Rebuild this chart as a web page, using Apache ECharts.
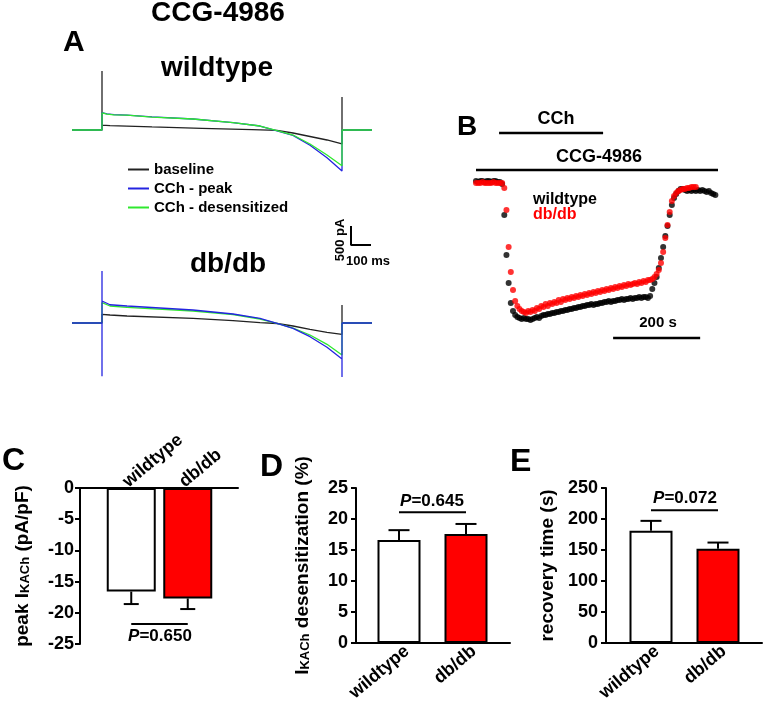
<!DOCTYPE html>
<html><head><meta charset="utf-8">
<script src="https://cdn.jsdelivr.net/npm/echarts@6/dist/echarts.min.js"></script>
<style>html,body{margin:0;padding:0;background:#fff}#c{width:765px;height:710px}</style>
</head><body><div id="c"></div>
<script>
const FONT = "'Liberation Sans', Arial, Helvetica, sans-serif";

// ---------- Panel A: current traces (time in ms, current in pA relative to holding) ----------
const wtBaseT = [-150, 0, 0, 0, 40, 250, 500, 750, 875, 955, 1040, 1125, 1200, 1200, 1200, 1350];
const wtBaseI = [0, 0, 1550, 130, 115, 80, 45, 10, -10, -79, -171, -263, -368, 870, 0, 0];
const wtPeakT = [-150, 0, 0, 25, 60, 125, 250, 455, 655, 790, 875, 955, 1040, 1125, 1200, 1200, 1350];
const wtPeakI = [0, 0, 455, 425, 405, 390, 345, 289, 195, 105, -20, -140, -400, -730, -1080, 0, 0];
const wtDesT  = [-150, 0, 0, 25, 60, 125, 250, 455, 655, 790, 875, 955, 1040, 1125, 1200, 1200, 1350];
const wtDesI  = [0, 0, 450, 420, 400, 390, 340, 289, 192, 105, -18, -132, -368, -658, -940, 0, 0];
const dbBaseT = [-150, 0, 0, 40, 125, 455, 655, 790, 875, 955, 1040, 1125, 1200, 1200, 1200, 1350];
const dbBaseI = [0, 0, 228, 210, 184, 124, 61, 8, -13, -79, -166, -245, -297, 474, 0, 0];
const dbPeakT = [-150, 0, 0, 0, 0, 40, 125, 455, 655, 790, 875, 955, 1040, 1125, 1200, 1200, 1200, 1350];
const dbPeakI = [0, 0, 1370, -1400, 579, 480, 447, 342, 237, 124, -13, -140, -360, -640, -947, -1420, 0, 0];
const dbDesT  = [-150, 0, 0, 40, 125, 455, 655, 790, 875, 955, 1040, 1125, 1200, 1200, 1350];
const dbDesI  = [0, 0, 534, 447, 413, 316, 224, 105, -13, -132, -316, -561, -842, 0, 0];

// ---------- Panel B: time course (s) of current, arbitrary units ----------
const timeS = [0,5,10,15,20,25,30,35,40,45,50,55,60,65,70,75,80,85,90,95,100,105,110,115,120,125,130,135,140,145,150,155,160,165,170,175,180,185,190,195,200,205,210,215,220,225,230,235,240,245,250,255,260,265,270,275,280,285,290,295,300,305,310,315,320,325,330,335,340,345,350,355,360,365,370,375,380,385,390,395,400,405,410,415,420,425,430,435,440,445,450,455,460,465,470,475,480,485,490,495,500,505,510,515,520,525,530,535,540,545,550];
const wtCourse = [1,0,1,1,0,1,1,0,1,1,0,0,
  -2,-33,-73,-101,-121,-129,-133,-135,-136,-137,
  -136,-137,-137,-138,-137,-136,-135,-136,-134,-133,
  -133,-132,-132,-131,-131,-130,-130,-129,-129,-128,
  -128,-127,-127,-126,-126,-125,-125,-124,-124,-123,
  -123,-122,-123,-122,-122,-121,-121,-120,-120,-119,
  -120,-119,-119,-118,-118,-117,-118,-117,-117,-116,
  -117,-116,-116,-115,-116,-115,-115,-116,-114,-107,
  -101,-95,-86,-76,-65,-54,-44,-33,-23,-16,
  -12,-9,-7,-7,-8,-9,-8,-9,-8,-9,
  -8,-9,-8,-9,-10,-9,-11,-12,-13];
const dbCourse = [-1,-1,-1,0,-1,-1,-1,-1,0,-1,-1,-1,
  -1,-6,-28,-65,-90,-108,-119,-124,-127,-129,
  -130,-131,-129,-130,-128,-129,-126,-127,-124,-125,
  -122,-124,-121,-122,-120,-121,-118,-120,-117,-118,
  -116,-117,-115,-116,-114,-115,-113,-114,-112,-113,
  -111,-112,-110,-111,-109,-110,-108,-109,-107,-108,
  -106,-107,-105,-106,-104,-105,-103,-104,-102,-103,
  -102,-101,-102,-100,-101,-99,-100,-98,-98,-97,
  -95,-92,-88,-81,-70,-56,-43,-30,-19,-14,
  -11,-9,-8,-7,-7,-6,-6,-5,-5,-5];
const cchPeriod = [53, 292];     // s
const ccgPeriod = [0, 556];      // s
const timeScaleB = [315, 515];   // 200 s bar

// ---------- Panels C, D, E ----------
const groups = ['wildtype', 'db/db'];
const peakMean = [-16.6, -17.7];
const peakSem  = [2.0, 1.7];
const desMean  = [16.6, 17.6];
const desSem   = [1.6, 1.6];
const recMean  = [181, 152];
const recSem   = [16, 10];
const pValues  = ['0.650', '0.645', '0.072'];
const peakTicks = [-25, -20, -15, -10, -5, 0];
const desTicks  = [0, 5, 10, 15, 20, 25];
const recTicks  = [0, 50, 100, 150, 200, 250];

const zip = (a, b) => a.map((v, i) => [v, b[i]]);
const BLACK = '#222222', BLUE = '#2424e0', GREEN = '#2fe82f', RED = '#ff0000';

function trace(name, t, v, color, gi, z) {
  return { type: 'line', name: name, xAxisIndex: gi, yAxisIndex: gi, data: zip(t, v),
    showSymbol: false, symbol: 'none', silent: true, z: z, animation: false,
    itemStyle: { color: color }, lineStyle: { color: color, width: 1.3 } };
}

function errRender(capW) {
  return function (params, api) {
    const x = api.value(0), m = api.value(1), e = api.value(2);
    const p0 = api.coord([x, m]);
    const p1 = api.coord([x, m < 0 ? m - e : m + e]);
    const st = { stroke: '#000', lineWidth: 2 };
    return { type: 'group', children: [
      { type: 'line', shape: { x1: p0[0], y1: p0[1], x2: p1[0], y2: p1[1] }, style: st },
      { type: 'line', shape: { x1: p1[0] - capW / 2, y1: p1[1], x2: p1[0] + capW / 2, y2: p1[1] }, style: st }
    ]};
  };
}

const tickLabel = { color: '#000', fontFamily: FONT, fontWeight: 'bold', fontSize: 18 };
const axisLineBlk = { show: true, lineStyle: { color: '#000', width: 2 } };
const nameStyle = { color: '#000', fontFamily: FONT, fontWeight: 'bold', fontSize: 19,
  rich: { sub: { fontFamily: FONT, fontWeight: 'bold', fontSize: 13, lineHeight: 8, verticalAlign: 'bottom' } } };

function valueAxisShown(gi, min, max, interval, name, gap, margin) {
  return { type: 'value', gridIndex: gi, min: min, max: max, interval: interval,
    axisLine: axisLineBlk, axisTick: { show: true, length: 5, lineStyle: { color: '#000', width: 2 } },
    axisLabel: Object.assign({ margin: margin }, tickLabel), splitLine: { show: false },
    name: name, nameLocation: 'middle', nameRotate: 90, nameGap: gap, nameTextStyle: nameStyle };
}
function hiddenValue(gi, min, max) { return { type: 'value', gridIndex: gi, min: min, max: max, show: false }; }
function baseX(gi, pos) {
  return { type: 'value', gridIndex: gi, min: 0, max: 1, position: pos, axisLine: Object.assign({ onZero: false }, axisLineBlk),
    axisTick: { show: false }, axisLabel: { show: false }, splitLine: { show: false } };
}
function catX(gi, pos, margin, showLabel) {
  return { type: 'category', gridIndex: gi, data: groups, position: pos,
    axisLine: { show: false }, axisTick: { show: false },
    axisLabel: Object.assign({ show: showLabel, rotate: 40, margin: margin, interval: 0 }, tickLabel) };
}

const grids = [
  { left: 72, top: 54, width: 300, height: 152 },          // 0 A wildtype
  { left: 72, top: 224.2, width: 300, height: 174.8 },     // 1 A db/db
  { left: 476, top: 122, width: 242, height: 230 },        // 2 B
  { left: 80, top: 488, width: 158, height: 156 },         // 3 C axes
  { left: 103, top: 488, width: 113, height: 156 },        // 4 C bars
  { left: 356, top: 488, width: 154, height: 155 },        // 5 D axes
  { left: 365.5, top: 488, width: 134, height: 155 },      // 6 D bars
  { left: 606, top: 488, width: 156, height: 155 },        // 7 E axes
  { left: 617.5, top: 488, width: 134, height: 155 },      // 8 E bars
  { left: 97, top: 488, width: 113, height: 156 },         // 9 C group labels
  { left: 373.5, top: 488, width: 134, height: 155 },      // 10 D group labels
  { left: 623.5, top: 488, width: 134, height: 155 }       // 11 E group labels
];

const xAxes = [
  { type: 'value', gridIndex: 0, min: -150, max: 1350, show: false },
  { type: 'value', gridIndex: 1, min: -150, max: 1350, show: false },
  { type: 'value', gridIndex: 2, min: 0, max: 556, show: false },
  baseX(3, 'top'), catX(4, 'top', 4, false),
  baseX(5, 'bottom'), catX(6, 'bottom', 6, false),
  baseX(7, 'bottom'), catX(8, 'bottom', 6, false),
  catX(9, 'top', 4, true), catX(10, 'bottom', 6, true), catX(11, 'bottom', 6, true)
];
const yAxes = [
  hiddenValue(0, -2000, 2000),
  hiddenValue(1, -2000, 2600),
  hiddenValue(2, -170, 60),
  valueAxisShown(3, peakTicks[0], peakTicks[peakTicks.length - 1], 5, 'peak I{sub|KACh} (pA/pF)', 48, 6),
  hiddenValue(4, -25, 0),
  valueAxisShown(5, desTicks[0], desTicks[desTicks.length - 1], 5, 'I{sub|KACh} desensitization (%)', 44, 8),
  hiddenValue(6, 0, 25),
  valueAxisShown(7, recTicks[0], recTicks[recTicks.length - 1], 50, 'recovery time (s)', 49, 8),
  hiddenValue(8, 0, 250),
  hiddenValue(9, -25, 0),
  hiddenValue(10, 0, 25),
  hiddenValue(11, 0, 250)
];

function barSeries(gi, means, sems, capW, barW, sigLevel) {
  return [
    { type: 'bar', name: 'bars' + gi, xAxisIndex: gi, yAxisIndex: gi, barWidth: barW, silent: true, animation: false,
      data: means.map((m, i) => ({ value: m, itemStyle: { color: i === 0 ? '#ffffff' : RED, borderColor: '#000', borderWidth: 2 } })) },
    { type: 'custom', name: 'err' + gi, xAxisIndex: gi, yAxisIndex: gi, silent: true, animation: false,
      renderItem: errRender(capW), data: means.map((m, i) => [i, m, sems[i]]), z: 3 },
    { type: 'line', name: 'sig' + gi, xAxisIndex: gi, yAxisIndex: gi, silent: true, animation: false, symbol: 'none',
      lineStyle: { color: '#000', width: 2 }, data: [[groups[0], sigLevel], [groups[1], sigLevel]] }
  ];
}

const lineAnno = (gi, pts, w) => ({ type: 'line', xAxisIndex: gi, yAxisIndex: gi, silent: true, animation: false,
  symbol: 'none', clip: false, lineStyle: { color: '#000', width: w }, data: pts });

const series = [
  trace('baseline', wtBaseT, wtBaseI, BLACK, 0, 2),
  trace('CCh - peak', wtPeakT, wtPeakI, BLUE, 0, 3),
  trace('CCh - desensitized', wtDesT, wtDesI, GREEN, 0, 4),
  trace('baseline', dbBaseT, dbBaseI, BLACK, 1, 2),
  trace('CCh - desensitized', dbDesT, dbDesI, GREEN, 1, 3),
  trace('CCh - peak', dbPeakT, dbPeakI, BLUE, 1, 4),
  lineAnno(1, [[1245, 2553], [1245, 2053], [1345, 2053]], 2),
  { type: 'scatter', name: 'wildtype', xAxisIndex: 2, yAxisIndex: 2, symbolSize: 6, silent: true, animation: false,
    itemStyle: { color: '#000' }, data: zip(timeS, wtCourse), z: 2 },
  { type: 'scatter', name: 'db/db', xAxisIndex: 2, yAxisIndex: 2, symbolSize: 6, silent: true, animation: false,
    itemStyle: { color: RED }, data: zip(timeS.slice(0, dbCourse.length), dbCourse), z: 3 },
  lineAnno(2, [[cchPeriod[0], 49], [cchPeriod[1], 49]], 2.5),
  lineAnno(2, [[ccgPeriod[0], 12], [ccgPeriod[1], 12]], 2.5),
  lineAnno(2, [[timeScaleB[0], -156], [timeScaleB[1], -156]], 2.5)
].concat(
  barSeries(4, peakMean, peakSem, 15, 49, -21.8),
  barSeries(6, desMean, desSem, 21, 43, 21.1),
  barSeries(8, recMean, recSem, 21, 43, 214)
);

function txt(x, y, text, size, opts) {
  return Object.assign({ type: 'text', x: x, y: y, silent: true,
    style: Object.assign({ text: text, fontFamily: FONT, fontWeight: 'bold', fontSize: size, fill: '#000',
      align: 'center', verticalAlign: 'middle' }, (opts && opts.style) || {}) }, (opts && opts.el) || {});
}
const pRich = { i: { fontFamily: FONT, fontWeight: 'bold', fontStyle: 'italic', fontSize: 17 } };
const graphics = [
  txt(218, 13, 'CCG-4986', 28),
  txt(63, 43, 'A', 30, { style: { align: 'left' } }),
  txt(217, 68, 'wildtype', 28),
  txt(228, 264, 'db/db', 28),
  txt(340, 240, '500 pA', 13, { el: { rotation: Math.PI / 2 } }),
  txt(368, 261, '100 ms', 13),
  txt(457, 127, 'B', 28, { style: { align: 'left' } }),
  txt(556, 119, 'CCh', 18),
  txt(599, 157, 'CCG-4986', 18),
  txt(533, 200, 'wildtype', 16, { style: { align: 'left' } }),
  txt(533, 215, 'db/db', 16, { style: { align: 'left', fill: RED } }),
  txt(658, 323, '200 s', 15),
  txt(2, 461, 'C', 32, { style: { align: 'left' } }),
  txt(260, 467, 'D', 32, { style: { align: 'left' } }),
  txt(510, 462, 'E', 32, { style: { align: 'left' } }),
  txt(160, 636, '{i|P}=' + pValues[0], 17, { style: { rich: pRich } }),
  txt(432, 501, '{i|P}=' + pValues[1], 17, { style: { rich: pRich } }),
  txt(685, 498, '{i|P}=' + pValues[2], 17, { style: { rich: pRich } })
];

const chart = echarts.init(document.getElementById('c'), null, { renderer: 'canvas' });
chart.setOption({
  animation: false,
  backgroundColor: '#ffffff',
  grid: grids,
  xAxis: xAxes,
  yAxis: yAxes,
  legend: [
    { data: ['baseline', 'CCh - peak', 'CCh - desensitized'], orient: 'vertical', left: 128, top: 162, padding: 0,
      icon: 'rect', itemWidth: 21, itemHeight: 2, itemGap: 4, selectedMode: false,
      textStyle: { fontFamily: FONT, fontWeight: 'bold', fontSize: 15, color: '#000' } }
  ],
  series: series,
  graphic: graphics
});
</script></body></html>
